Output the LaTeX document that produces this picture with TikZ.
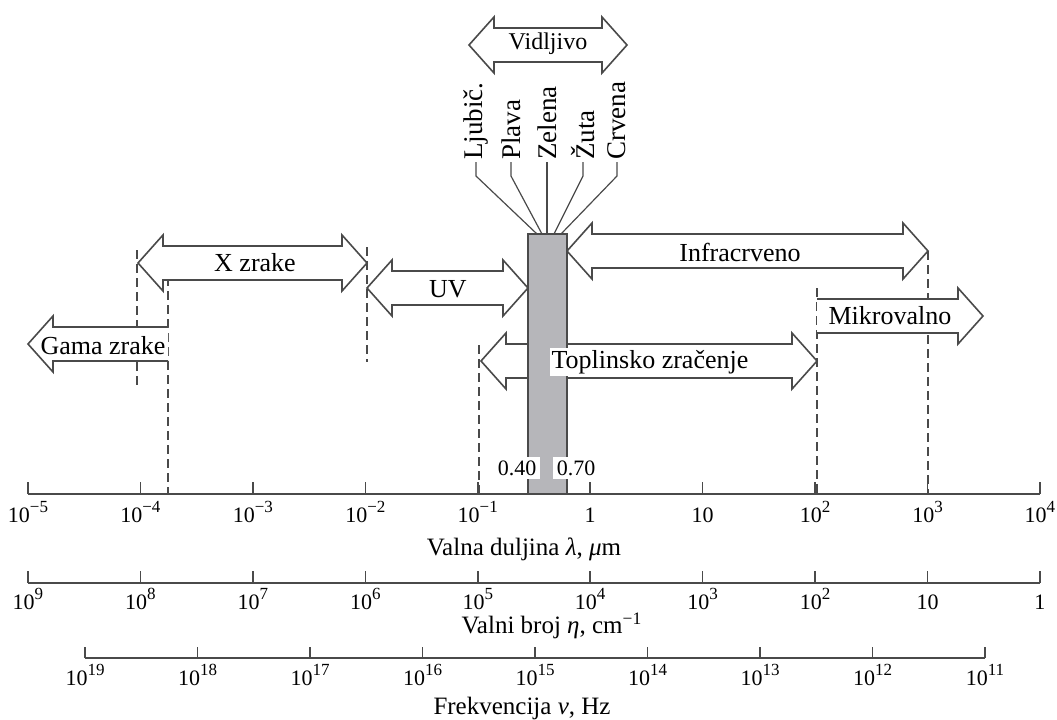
\documentclass[tikz,border=0pt]{standalone}
\usepackage{fontspec}
\setmainfont{Liberation Serif}
\usetikzlibrary{positioning}

\definecolor{edge}{HTML}{4A4A4A}
\definecolor{barfill}{HTML}{B6B6BA}

\newcommand{\pw}[1]{10\raisebox{0.42em}{\fontsize{8.5}{9}\selectfont #1}}
% band arrows: x of the ends, y of the middle
\newcommand{\twoarrow}[3]{%
  \path[band] (#1,#3) -- (#1+25,#3-28) -- (#1+25,#3-17) -- (#2-25,#3-17) -- (#2-25,#3-28)
    -- (#2,#3) -- (#2-25,#3+28) -- (#2-25,#3+17) -- (#1+25,#3+17) -- (#1+25,#3+28) -- cycle;}
\newcommand{\leftband}[3]{%
  \path[band] (#2,#3-17) -- (#1+25,#3-17) -- (#1+25,#3-28) -- (#1,#3)
    -- (#1+25,#3+28) -- (#1+25,#3+17) -- (#2,#3+17);}
\newcommand{\rightband}[3]{%
  \path[band] (#1,#3-17) -- (#2-25,#3-17) -- (#2-25,#3-28) -- (#2,#3)
    -- (#2-25,#3+28) -- (#2-25,#3+17) -- (#1,#3+17);}

\begin{document}
\begin{tikzpicture}[x=0.5pt, y=-0.5pt,
    band/.style={draw=edge, fill=white, line width=0.8pt},
    guide/.style={draw=edge, line width=0.6pt, dash pattern=on 4.5pt off 2.5pt},
    axisline/.style={draw=edge, line width=0.75pt},
    leader/.style={draw=edge, line width=0.6pt},
    tag/.style={inner sep=1pt, font=\fontsize{13}{15}\selectfont},
    hue/.style={rotate=90, anchor=west, inner sep=1pt, font=\fontsize{13.5}{15}\selectfont},
    num/.style={inner sep=0pt, anchor=base, font=\fontsize{11}{13}\selectfont},
    axtitle/.style={inner sep=0pt, anchor=base, font=\fontsize{12.5}{14}\selectfont}]
  \useasboundingbox (0,0) rectangle (1057,719);

  % dashed limits
  \foreach \x/\a/\b in {137/250/390, 168/263/494, 367/247/362, 479/345/494, 817/288/494, 928/251/494}
    \draw[guide] (\x,\a) -- (\x,\b);

  % bands
  \twoarrow{469}{627}{45}
  \twoarrow{138}{367}{263}
  \twoarrow{367}{528}{288}
  \twoarrow{567}{928}{251}
  \twoarrow{481}{817}{361}
  \leftband{28}{168}{344}
  \rightband{817}{983}{316}

  % visible part
  \draw[draw=edge, fill=barfill, line width=0.75pt] (528,234) rectangle (567,494);
  \node[num, anchor=center, fill=white, inner sep=2pt] (lo) at (517,468) {0.40};
  \node[num, anchor=center, fill=white, inner sep=2pt] (hi) at (576,468) {0.70};

  \node[tag, font=\fontsize{12}{14}\selectfont] (vis) at (548,44) {Vidljivo};
  \node[tag] (xr) at (255,263) {X zrake};
  \node[tag] (uv) at (448,289) {UV};
  \node[tag] (ir) at (740,252) {Infracrveno};
  \node[tag, fill=white] (th) at (650,362) {Toplinsko zračenje};
  \node[tag] (gz) at (103,346) {Gama zrake};
  \node[tag] (mw) at (890,316) {Mikrovalno};

  \foreach \n/\x/\t/\b in {lj/476/Ljubič./537, pl/511/Plava/542, ze/547/Zelena/547, zu/583/Žuta/554, cr/617/Crvena/561}{
    \node[hue] (\n) at (\x,162) {\t};
    \coordinate (\n-end) at (\b,234);
    \draw[leader] (\n.west) -- ++(0,14) -- (\n-end);
  }

  % wavelength
  \draw[axisline] (28,494) -- (1040,494);
  \foreach \t [count=\i from 0] in {{\pw{−5}},{\pw{−4}},{\pw{−3}},{\pw{−2}},{\pw{−1}},1,10,{\pw{2}},{\pw{3}},{\pw{4}}}{
    \draw[axisline] ({28+112.44*\i},494) -- ++(0,-12);
    \node[num] (wl\i) at ({28+112.44*\i},522) {\t};
  }
  \node[axtitle] (lam) at (524,555) {Valna duljina {\itshape λ}, {\itshape μ}m};

  % wave number
  \draw[axisline] (28,583) -- (1040,583);
  \foreach \t [count=\i from 0] in {{\pw{9}},{\pw{8}},{\pw{7}},{\pw{6}},{\pw{5}},{\pw{4}},{\pw{3}},{\pw{2}},10,1}{
    \draw[axisline] ({28+112.44*\i},583) -- ++(0,-12);
    \node[num] (wn\i) at ({28+112.44*\i},609) {\t};
  }
  \node[axtitle] (eta) at (552,633) {Valni broj {\itshape η}, cm\textsuperscript{−1}};

  % frequency
  \draw[axisline] (85,658) -- (985,658);
  \foreach \t [count=\i from 0] in {{\pw{19}},{\pw{18}},{\pw{17}},{\pw{16}},{\pw{15}},{\pw{14}},{\pw{13}},{\pw{12}},{\pw{11}}}{
    \draw[axisline] ({85+112.5*\i},658) -- ++(0,-11);
    \node[num] (fr\i) at ({85+112.5*\i},685) {\t};
  }
  \node[axtitle] (nu) at (522,714) {Frekvencija {\itshape ν}, Hz};
\end{tikzpicture}
\end{document}
